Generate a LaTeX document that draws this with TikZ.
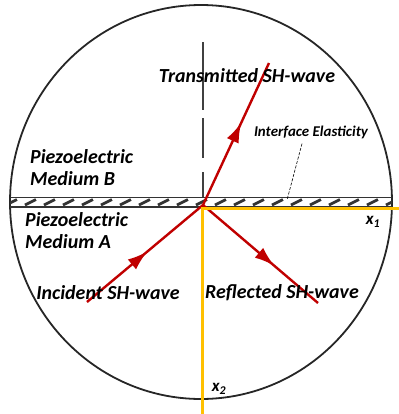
\documentclass[tikz,border=0pt]{standalone}
\usepackage{fontspec}
\setmainfont{Carlito}
\usetikzlibrary{positioning, arrows.meta, decorations.markings}
\definecolor{wavered}{RGB}{192,0,0}
\definecolor{axisgold}{RGB}{255,192,0}

\begin{document}
\begin{tikzpicture}[
    x=1bp, y=-1bp,
    wave/.style={wavered, line width=2.4bp},
    midarrow/.style={postaction={decorate}, decoration={markings, mark=at position #1 with {\arrow{Latex[length=20bp, width=13bp]}}}},
    axisline/.style={axisgold, line width=3bp},
    lbl/.style={font=\fontsize{20}{22}\selectfont\bfseries\itshape, inner sep=0pt, align=left},
    every node/.style={text=black}
]
    \useasboundingbox (0,0) rectangle (399,414);

    % Outer circle
    \draw[line width=1.8bp, black!85] (201,202) ellipse [x radius=191, y radius=197];

    % Interface band
    \begin{scope}
        \clip (201,202) ellipse [x radius=191, y radius=197];
        \draw[line width=1.8bp, black!80] (0,197.5) -- (399,197.5);
        \draw[line width=1.8bp, black!80] (0,207) -- (399,207);
        \foreach \x in {6,25,...,400}
            \draw[line width=2.8bp, black!80] (\x,205) -- (\x+11,199.5);
    \end{scope}

    % Normal to the interface
    \coordinate (normtop) at (203,42);
    \coordinate (normfoot) at (203,200);
    \draw[line width=2.2bp, black!75, dash pattern=on 68bp off 8bp on 40bp off 14bp on 25bp off 20bp] (normtop) -- (normfoot);

    % Waves
    \coordinate (O) at (203,205);
    \coordinate (inc) at (87,302);
    \coordinate (refl) at (318,303);
    \coordinate (trans) at (269,63);
    \draw[wave, midarrow=0.52] (inc) -- (O);
    \draw[wave, midarrow=0.62] (O) -- (refl);
    \draw[wave, midarrow=0.58] (O) -- (trans);

    % Axes
    \coordinate (Oax) at (202,208.5);
    \coordinate (x1end) at (399,208.5);
    \coordinate (x2end) at (202,414);
    \draw[axisline] (x1end) -- (Oax) -- (x2end);

    % Labels
    \node[lbl] (transl) at (247,76) {Transmitted SH-wave};
    \node[lbl, anchor=north west] (medB) at (30,149) {Piezoelectric\\Medium B};
    \node[lbl, anchor=north west] (medA) at (25,212) {Piezoelectric\\Medium A};
    \node[lbl] (incl) at (108,293) {Incident SH-wave};
    \node[lbl] (refll) at (282,293) {Reflected SH-wave};
    \node[lbl, font=\fontsize{17}{19}\selectfont\bfseries\itshape] (xone) at (373,222) {x\textsubscript{1}};
    \node[lbl, font=\fontsize{17}{19}\selectfont\bfseries\itshape] (xtwo) at (219,389) {x\textsubscript{2}};
    \node[lbl, font=\fontsize{15}{17}\selectfont\bfseries\itshape] (iface) at (311,132) {Interface Elasticity};

    % Leader to the interface
    \coordinate (ifaceend) at (287,200);
    \draw[black, line width=0.6bp, dash pattern=on 3bp off 1.5bp] ([xshift=-9bp, yshift=-5bp]iface.south) -- (ifaceend);
\end{tikzpicture}
\end{document}
